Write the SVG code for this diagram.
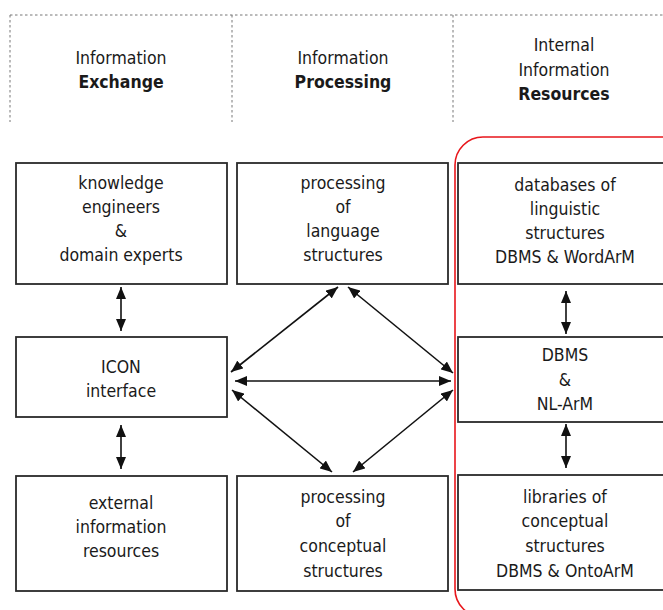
<svg xmlns="http://www.w3.org/2000/svg" width="663" height="610" viewBox="0 0 663 610">
<defs>
<style>
text{font-family:"DejaVu Sans Condensed","DejaVu Sans",sans-serif;font-stretch:condensed;font-size:17.5px;fill:#1a1a1a;text-anchor:middle}
.b{font-weight:bold}
.box{fill:#fff;stroke:#2a2a2a;stroke-width:1.8}
.dash{stroke:#777;stroke-width:1;stroke-dasharray:2.5,2.5;fill:none}
.con{stroke:#111;stroke-width:1.6;fill:none;marker-start:url(#ah);marker-end:url(#ah)}
</style>
<marker id="ah" viewBox="0 0 12 10" refX="12" refY="5" markerWidth="12" markerHeight="10" orient="auto-start-reverse" markerUnits="userSpaceOnUse">
<path d="M0,0 L12,5 L0,10 z" fill="#111"/>
</marker>
</defs>
<rect width="663" height="610" fill="#fff"/>
<g id="header">
<path class="dash" d="M10,15 H663 M10,15 V122 M232,15 V122 M453,15 V122"/>
<text x="121" y="64">Information</text>
<text x="121" y="88" class="b">Exchange</text>
<text x="343" y="64">Information</text>
<text x="343" y="88" class="b">Processing</text>
<text x="564" y="51">Internal</text>
<text x="564" y="76">Information</text>
<text x="564" y="100" class="b">Resources</text>
</g>
<g id="resources-frame">
<rect x="455" y="137" width="240" height="480" rx="28" fill="none" stroke="#e8161b" stroke-width="1.6"/>
</g>
<g id="n-experts">
<rect class="box" x="16" y="163" width="211" height="121"/>
<text x="121" y="189">knowledge</text>
<text x="121" y="213">engineers</text>
<text x="121" y="237">&amp;</text>
<text x="121" y="261">domain experts</text>
</g>
<g id="n-icon">
<rect class="box" x="16" y="337" width="211" height="80"/>
<text x="121" y="373">ICON</text>
<text x="121" y="397">interface</text>
</g>
<g id="n-external">
<rect class="box" x="16" y="476" width="211" height="115"/>
<text x="121" y="509">external</text>
<text x="121" y="533">information</text>
<text x="121" y="557">resources</text>
</g>
<g id="n-lang">
<rect class="box" x="237" y="163" width="211" height="121"/>
<text x="343" y="189">processing</text>
<text x="343" y="213">of</text>
<text x="343" y="237">language</text>
<text x="343" y="261">structures</text>
</g>
<g id="n-concept">
<rect class="box" x="237" y="476" width="211" height="115"/>
<text x="343" y="503">processing</text>
<text x="343" y="527">of</text>
<text x="343" y="552">conceptual</text>
<text x="343" y="577">structures</text>
</g>
<g id="n-db">
<rect class="box" x="458" y="163" width="220" height="121"/>
<text x="565" y="191">databases of</text>
<text x="565" y="215">linguistic</text>
<text x="565" y="239">structures</text>
<text x="565" y="263">DBMS &amp; WordArM</text>
</g>
<g id="n-nlarm">
<rect class="box" x="458" y="337" width="220" height="85"/>
<text x="565" y="361">DBMS</text>
<text x="565" y="386">&amp;</text>
<text x="565" y="410">NL-ArM</text>
</g>
<g id="n-libs">
<rect class="box" x="458" y="475" width="220" height="115"/>
<text x="565" y="503">libraries of</text>
<text x="565" y="527">conceptual</text>
<text x="565" y="552">structures</text>
<text x="565" y="577">DBMS &amp; OntoArM</text>
</g>
<g id="connectors">
<line class="con" x1="121" y1="287" x2="121" y2="331"/>
<line class="con" x1="121" y1="425" x2="121" y2="469"/>
<line class="con" x1="566" y1="291" x2="566" y2="334"/>
<line class="con" x1="566" y1="424" x2="566" y2="468"/>
<line class="con" x1="338" y1="287" x2="231" y2="372"/>
<line class="con" x1="348" y1="287" x2="453" y2="373"/>
<line class="con" x1="235" y1="381" x2="451" y2="381"/>
<line class="con" x1="232" y1="390" x2="332" y2="472"/>
<line class="con" x1="453" y1="390" x2="353" y2="472"/>
</g>
</svg>
